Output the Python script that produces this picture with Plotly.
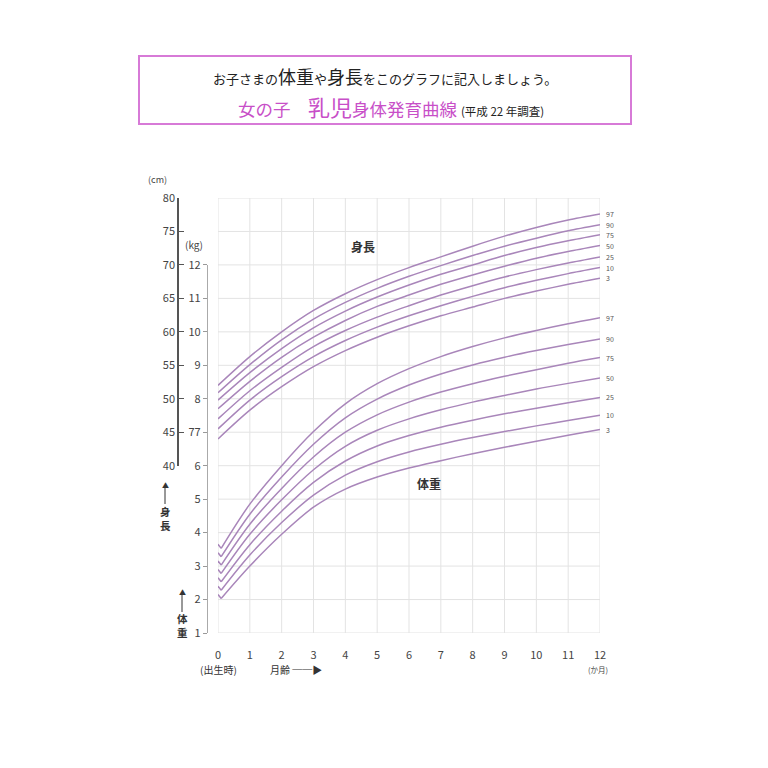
import plotly.graph_objects as go

# ---------------- data ----------------
months = [0, 1, 2, 3, 4, 5, 6, 7, 8, 9, 10, 11, 12]
percentiles = ["97", "90", "75", "50", "25", "10", "3"]

# height (cm) by percentile
h97 = [52.0, 56.3, 60.0, 63.2, 65.7, 67.8, 69.6, 71.2, 72.8, 74.3, 75.6, 76.7, 77.6]
h90 = [50.9, 55.1, 58.8, 61.9, 64.4, 66.5, 68.3, 69.9, 71.4, 72.8, 74.0, 75.1, 76.0]
h75 = [49.8, 53.9, 57.5, 60.6, 63.1, 65.2, 67.0, 68.6, 70.0, 71.4, 72.6, 73.6, 74.5]
h50 = [48.5, 52.6, 56.2, 59.2, 61.7, 63.8, 65.5, 67.1, 68.5, 69.8, 71.0, 72.0, 72.9]
h25 = [47.0, 51.2, 54.7, 57.8, 60.2, 62.2, 63.9, 65.5, 66.9, 68.2, 69.3, 70.3, 71.2]
h10 = [45.5, 49.8, 53.3, 56.3, 58.7, 60.7, 62.4, 63.9, 65.3, 66.6, 67.7, 68.7, 69.6]
h3 = [44.0, 48.3, 51.8, 54.8, 57.2, 59.2, 60.9, 62.4, 63.7, 65.0, 66.1, 67.1, 68.0]
heights = [h97, h90, h75, h50, h25, h10, h3]

# weight (kg): birth value at month 0, then the curve from the post-birth dip
birth_month = 0
weight_months = [0.1, 1, 2, 3, 4, 5, 6, 7, 8, 9, 10, 11, 12]
w_birth = [3.65, 3.40, 3.15, 2.90, 2.65, 2.40, 2.15]
w97 = [3.53, 4.85, 6.00, 7.02, 7.85, 8.45, 8.90, 9.26, 9.56, 9.82, 10.04, 10.24, 10.42]
w90 = [3.28, 4.55, 5.66, 6.64, 7.43, 7.99, 8.41, 8.74, 9.01, 9.24, 9.44, 9.62, 9.79]
w75 = [3.03, 4.25, 5.32, 6.26, 7.00, 7.52, 7.90, 8.20, 8.45, 8.67, 8.87, 9.06, 9.23]
w50 = [2.78, 3.95, 4.98, 5.88, 6.58, 7.06, 7.40, 7.67, 7.90, 8.10, 8.29, 8.46, 8.62]
w25 = [2.53, 3.64, 4.64, 5.50, 6.14, 6.59, 6.90, 7.15, 7.36, 7.55, 7.72, 7.88, 8.04]
w10 = [2.28, 3.33, 4.30, 5.12, 5.72, 6.12, 6.41, 6.64, 6.84, 7.02, 7.19, 7.35, 7.51]
w3 = [2.03, 3.00, 3.95, 4.76, 5.30, 5.66, 5.93, 6.15, 6.36, 6.55, 6.73, 6.91, 7.08]
weights = [w97, w90, w75, w50, w25, w10, w3]

cm_ticks = [40, 45, 50, 55, 60, 65, 70, 75, 80]
kg_ticks = [1, 2, 3, 4, 5, 6, 7, 8, 9, 10, 11, 12]
kg_labels = ["1", "2", "3", "4", "5", "6", "77", "8", "9", "10", "11", "12"]
grid_kg = [1, 2, 3, 4, 5, 6, 7, 8, 9, 10, 11, 12, 13, 14]

# ---------------- layout geometry ----------------
W, H = 768, 768
OFF = 8  # page body margin
L, R, T, B = 218 - 78 - OFF, 768 - 600 + OFF, 198 - OFF, 768 - 633 + OFF
PW, PH = W - L - R, H - T - B


def px(x):
    return (x - OFF - L) / PW


def py(y):
    return (H - B - (y - OFF)) / PH


LINE = "#a986ba"
GRID = "#e3e3e3"
FONT = "Noto Sans CJK JP"

fig = go.Figure()

# dummy trace for the grid subplot
fig.add_trace(go.Scatter(x=[None], y=[None], xaxis="x", yaxis="y",
                         showlegend=False, hoverinfo="skip"))

for p, h in zip(percentiles, heights):
    fig.add_trace(go.Scatter(x=months, y=h, mode="lines", xaxis="x", yaxis="y2",
                             line=dict(color=LINE, width=1.5, shape="spline", smoothing=0.8),
                             showlegend=False, hoverinfo="skip"))

for p, wb, w in zip(percentiles, w_birth, weights):
    fig.add_trace(go.Scatter(x=[birth_month, weight_months[0]], y=[wb, w[0]], mode="lines",
                             xaxis="x", yaxis="y3",
                             line=dict(color=LINE, width=1.5),
                             showlegend=False, hoverinfo="skip"))
    fig.add_trace(go.Scatter(x=weight_months, y=w, mode="lines", xaxis="x", yaxis="y3",
                             line=dict(color=LINE, width=1.5, shape="spline", smoothing=0.9),
                             showlegend=False, hoverinfo="skip"))


def ann(x, y, text, size, color="#333", xanchor="center", **kw):
    return dict(x=px(x), y=py(y), xref="paper", yref="paper", showarrow=False,
                xanchor=xanchor, yanchor="middle", text=text,
                font=dict(size=size, color=color, family=FONT), **kw)


annotations = []
for p, h in zip(percentiles, heights):
    annotations.append(dict(x=months[-1], y=h[-1], xref="x", yref="y2", text=p,
                            showarrow=False, xanchor="left", yanchor="middle", xshift=4,
                            font=dict(size=7, color="#555", family=FONT)))
for p, w in zip(percentiles, weights):
    annotations.append(dict(x=weight_months[-1], y=w[-1], xref="x", yref="y3", text=p,
                            showarrow=False, xanchor="left", yanchor="middle", xshift=4,
                            font=dict(size=7, color="#555", family=FONT)))

# title box texts
annotations.append(ann(385, 76,
                       "お子さまの<span style='font-size:18px'>体重</span>や"
                       "<span style='font-size:18px'>身長</span>をこのグラフに記入しましょう。",
                       13, color="#222"))
annotations.append(ann(391, 106,
                       "女の子　<span style='font-size:22px'>乳児</span>身体発育曲線 "
                       "<span style='font-size:11.5px;color:#222'>(平成 22 年調査)</span>",
                       17.5, color="#c84fc8"))

# unit labels
annotations.append(ann(157, 180, "(cm)", 9, color="#444"))
annotations.append(ann(194, 244, "(kg)", 10, color="#444"))

# in-chart labels
annotations.append(ann(363, 246, "<b>身長</b>", 12))
annotations.append(ann(429, 483, "<b>体重</b>", 12))

# vertical axis captions with arrows
annotations.append(ann(165, 519, "<b>身<br>長</b>", 10.5))
annotations.append(ann(182, 625, "<b>体<br>重</b>", 10.5))
annotations.append(ann(165, 485, "▲", 7))
annotations.append(ann(182, 592, "▲", 7))

# bottom captions
annotations.append(ann(218, 669, "(出生時)", 10))
annotations.append(ann(268, 669, "月齢 ──▶", 10, xanchor="left"))
annotations.append(ann(598, 669, "(か月)", 7.5, color="#444"))

shapes = [
    dict(type="rect", xref="paper", yref="paper", x0=px(139), x1=px(631), y0=py(124), y1=py(56),
         line=dict(color="#d77ad7", width=2), fillcolor="rgba(0,0,0,0)"),
    dict(type="line", xref="paper", yref="paper", x0=px(165), x1=px(165), y0=py(488), y1=py(504),
         line=dict(color="#333", width=1)),
    dict(type="line", xref="paper", yref="paper", x0=px(182), x1=px(182), y0=py(595), y1=py(612),
         line=dict(color="#333", width=1)),
]
# grid lines, drawn below every subplot
for m in months:
    shapes.append(dict(type="line", xref="x", yref="paper", x0=m, x1=m, y0=0, y1=1,
                       layer="below", line=dict(color=GRID, width=1)))
for g in grid_kg:
    shapes.append(dict(type="line", xref="paper", yref="y", x0=px(218), x1=1, y0=g, y1=g,
                       layer="below", line=dict(color=GRID, width=1)))

fig.update_layout(
    width=W, height=H, autosize=False,
    margin=dict(l=L, r=R, t=T, b=B, pad=0),
    paper_bgcolor="white", plot_bgcolor="rgba(0,0,0,0)",
    font=dict(family=FONT, color="#444"),
    showlegend=False,
    xaxis=dict(domain=[px(218), 1], range=[0, 12], tickvals=months, ticks="",
               showgrid=False, zeroline=False, showline=False,
               tickfont=dict(size=11, color="#444"), ticklabelstandoff=14, anchor="y",
               fixedrange=True),
    yaxis=dict(domain=[0, 1], range=[1, 14], dtick=1, showticklabels=False, ticks="",
               showgrid=False, zeroline=False, showline=False, anchor="x"),
    yaxis2=dict(domain=[5 / 13, 1], range=[40, 80], tickvals=cm_ticks, ticks="inside",
                ticklen=5, tickcolor="#555", showline=True, linecolor="#555", linewidth=1.5,
                showgrid=False, zeroline=False, anchor="free", position=px(178),
                tickfont=dict(size=11, color="#444")),
    yaxis3=dict(domain=[0, 11 / 13], range=[1, 12], tickvals=kg_ticks, ticktext=kg_labels,
                ticks="outside", ticklen=4, tickcolor="#999", showline=True, linecolor="#aaa",
                linewidth=1.2, showgrid=False, zeroline=False, anchor="free", position=px(207),
                tickfont=dict(size=11, color="#444")),
    annotations=annotations,
    shapes=shapes,
)

fig.write_html("out.html")
